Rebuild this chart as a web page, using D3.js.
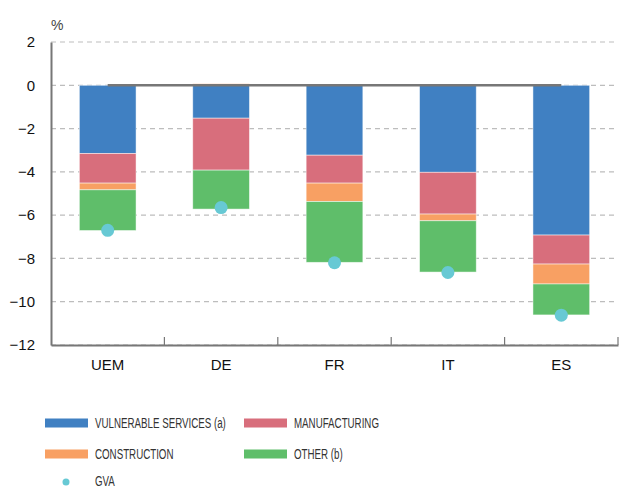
<!DOCTYPE html>
<html>
<head>
<meta charset="utf-8">
<script src="https://cdn.jsdelivr.net/npm/d3@7"></script>
<style>
  body { margin: 0; background: #fff; }
  svg { font-family: "Liberation Sans", Arial, sans-serif; }
</style>
</head>
<body>
<svg id="chart" width="620" height="490"></svg>
<script>
var countries = ["UEM", "DE", "FR", "IT", "ES"];
var vulnerable = [-3.15, -1.52, -3.23, -4.02, -6.92];
var manufacturing = [-1.37, -2.40, -1.29, -1.93, -1.34];
var construction = [-0.31, 0.07, -0.85, -0.31, -0.92];
var other = [-1.88, -1.80, -2.81, -2.37, -1.43];
var gva = [-6.7, -5.65, -8.2, -8.65, -10.62];
var yTicks = [2, 0, -2, -4, -6, -8, -10, -12];

var seriesNames = ["VULNERABLE SERVICES (a)", "MANUFACTURING", "CONSTRUCTION", "OTHER (b)"];
var seriesValues = [vulnerable, manufacturing, construction, other];
var seriesColors = ["#4080c2", "#d86e7c", "#f8a063", "#5fbe6a"];
var gvaColor = "#67c9d4";

var svg = d3.select("#chart"),
  margin = { top: 42, right: 2, bottom: 145, left: 51 },
  width = +svg.attr("width") - margin.left - margin.right,
  height = +svg.attr("height") - margin.top - margin.bottom,
  g = svg.append("g")
    .attr("transform", "translate(" + margin.left + "," + margin.top + ")");

var x = d3.scaleBand().domain(countries).range([0, width]).paddingInner(0).paddingOuter(0);
var y = d3.scaleLinear().domain([-12, 2]).range([height, 0]);
var barW = x.bandwidth() * 0.5;

// gridlines
g.append("g")
  .selectAll("line")
  .data(yTicks)
  .enter()
  .append("line")
  .attr("x1", 0)
  .attr("x2", width)
  .attr("y1", function(d) { return y(d); })
  .attr("y2", function(d) { return y(d); })
  .attr("stroke", "#bdbdbd")
  .attr("stroke-width", 1.2)
  .attr("stroke-dasharray", "5,4");

// stacked bars (negatives stack downward, positives upward)
var rows = countries.map(function(c, i) {
  var neg = 0, pos = 0;
  return seriesValues.map(function(vals, k) {
    var v = vals[i], y0, y1;
    if (v < 0) { y0 = neg; y1 = neg + v; neg = y1; }
    else { y0 = pos; y1 = pos + v; pos = y1; }
    return { country: c, key: k, y0: y0, y1: y1 };
  });
});

g.append("g")
  .selectAll("g")
  .data(rows)
  .enter()
  .append("g")
  .selectAll("rect")
  .data(function(d) { return d; })
  .enter()
  .append("rect")
  .attr("x", function(d) { return x(d.country) + (x.bandwidth() - barW) / 2; })
  .attr("width", barW)
  .attr("y", function(d) { return y(Math.max(d.y0, d.y1)); })
  .attr("height", function(d) { return Math.abs(y(d.y0) - y(d.y1)); })
  .attr("fill", function(d) { return seriesColors[d.key]; })
  .attr("stroke", "rgba(255,255,255,0.6)")
  .attr("stroke-width", 0.8);

// zero line across bar centres
g.append("line")
  .attr("x1", x(countries[0]) + x.bandwidth() / 2)
  .attr("x2", x(countries[countries.length - 1]) + x.bandwidth() / 2)
  .attr("y1", y(0))
  .attr("y2", y(0))
  .attr("stroke", "#777")
  .attr("stroke-width", 2.5);

// GVA dots
g.append("g")
  .selectAll("circle")
  .data(gva)
  .enter()
  .append("circle")
  .attr("cx", function(d, i) { return x(countries[i]) + x.bandwidth() / 2; })
  .attr("cy", function(d) { return y(d); })
  .attr("r", 6.5)
  .attr("fill", gvaColor);

// axes
var yAxis = g.append("g")
  .call(d3.axisLeft(y).tickValues(yTicks).tickSize(0).tickPadding(16).tickFormat(d3.format("d")));
yAxis.select(".domain").attr("stroke", "#777").attr("stroke-width", 2);
yAxis.selectAll("text")
  .attr("font-size", 15)
  .attr("fill", "#111");

var xAxis = g.append("g")
  .attr("transform", "translate(0," + height + ")")
  .call(d3.axisBottom(x).tickSize(0).tickPadding(14));
xAxis.select(".domain").attr("stroke", "#777").attr("stroke-width", 2);
xAxis.selectAll("text")
  .attr("font-size", 15)
  .attr("fill", "#111");

// category separators
g.append("g")
  .selectAll("line")
  .data(countries.slice(1).concat(["end"]))
  .enter()
  .append("line")
  .attr("x1", function(d, i) { return x.step() * (i + 1); })
  .attr("x2", function(d, i) { return x.step() * (i + 1); })
  .attr("y1", height)
  .attr("y2", height - 8)
  .attr("stroke", "#777")
  .attr("stroke-width", 1.2);

svg.append("text")
  .attr("x", 51)
  .attr("y", 30)
  .attr("font-size", 14)
  .attr("fill", "#444")
  .text("%");

// legend
var legendItems = [
  { name: seriesNames[0], color: seriesColors[0], x: 45, y: 423 },
  { name: seriesNames[1], color: seriesColors[1], x: 244, y: 423 },
  { name: seriesNames[2], color: seriesColors[2], x: 45, y: 454 },
  { name: seriesNames[3], color: seriesColors[3], x: 244, y: 454 }
];
var legend = svg.append("g")
  .selectAll("g")
  .data(legendItems)
  .enter()
  .append("g")
  .attr("transform", function(d) { return "translate(" + d.x + "," + d.y + ")"; });
legend.append("rect")
  .attr("x", 0)
  .attr("y", -4.5)
  .attr("width", 43)
  .attr("height", 9)
  .attr("fill", function(d) { return d.color; });
legend.append("text")
  .attr("transform", "translate(50,0) scale(0.65,1)")
  .attr("dy", "0.35em")
  .attr("font-size", 15)
  .attr("fill", "#333")
  .text(function(d) { return d.name; });

var gvaLeg = svg.append("g").attr("transform", "translate(45,481)");
gvaLeg.append("circle").attr("cx", 21).attr("cy", 1).attr("r", 3.5).attr("fill", gvaColor);
gvaLeg.append("text")
  .attr("transform", "translate(50,0) scale(0.65,1)")
  .attr("dy", "0.35em")
  .attr("font-size", 15)
  .attr("fill", "#333")
  .text("GVA");
</script>
</body>
</html>
